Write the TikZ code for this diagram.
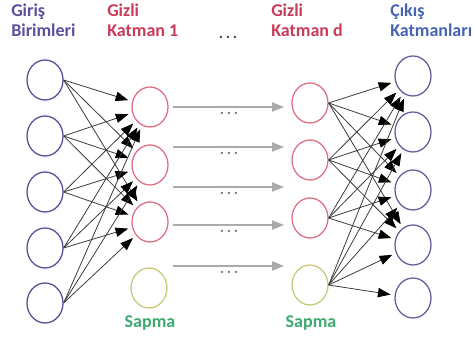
\documentclass[tikz,border=0pt]{standalone}
\usepackage{fontspec}
\setmainfont{Carlito}[BoldFont=Carlito Bold]
\usetikzlibrary{shapes.geometric,arrows.meta}
\definecolor{inblue}{RGB}{80,80,150}
\definecolor{hidred}{RGB}{222,110,130}
\definecolor{biasyel}{RGB}{200,200,120}
\definecolor{outblue}{RGB}{95,95,155}
\definecolor{txtin}{RGB}{90,80,160}
\definecolor{txthid}{RGB}{200,60,90}
\definecolor{txtout}{RGB}{70,100,180}
\definecolor{txtbias}{RGB}{60,170,110}
\definecolor{edgegray}{RGB}{60,60,60}
\definecolor{lightgray}{RGB}{170,170,170}
\tikzset{
  neuron/.style={ellipse,draw,line width=0.95pt,minimum width=27pt,minimum height=30pt,inner sep=0pt,fill=white},
  innode/.style={neuron,draw=inblue},
  hidnode/.style={neuron,draw=hidred},
  biasnode/.style={neuron,draw=biasyel},
  outnode/.style={neuron,draw=outblue},
  lbl/.style={font=\fontsize{13.5}{15}\selectfont\bfseries,align=left,anchor=north west,inner sep=0pt},
  conn/.style={draw=edgegray,line width=0.6pt,-{Triangle[length=9.5pt,width=7pt,color=black]},shorten >=3pt},
  skip/.style={draw=lightgray,line width=0.85pt,-{Triangle[length=9pt,width=7pt]}},
  dots/.style={font=\fontsize{12}{15}\selectfont\bfseries,text=gray,inner sep=0pt}
}
\begin{document}
\begin{tikzpicture}[x=0.75pt,y=-0.75pt]
\useasboundingbox (0,0) rectangle (474,341);
% labels
\node[lbl,text=txtin] (lin) at (11,4) {Giriş\\Birimleri};
\node[lbl,text=txthid] (lh1) at (107,4) {Gizli\\Katman 1};
\node[dots,text=black!70] (ltop) at (228,37) {.\,.\,.};
\node[lbl,text=txthid] (lhd) at (271,4) {Gizli\\Katman d};
\node[lbl,text=txtout] (lout) at (390,4) {Çıkış\\Katmanları};
% input layer
\node[innode] (i1) at (45,80) {};
\node[innode] (i2) at (45,136) {};
\node[innode] (i3) at (45,192) {};
\node[innode] (i4) at (45,248) {};
\node[innode] (i5) at (45,303) {};
% hidden 1
\node[hidnode] (a1) at (150,107) {};
\node[hidnode] (a2) at (150,165) {};
\node[hidnode] (a3) at (150,222) {};
\node[biasnode] (ab) at (149,288) {};
% hidden d
\node[hidnode] (d1) at (310,103) {};
\node[hidnode] (d2) at (310,160) {};
\node[hidnode] (d3) at (310,218) {};
\node[biasnode] (db) at (310,285) {};
% output
\node[outnode] (o1) at (413,76) {};
\node[outnode] (o2) at (413,132) {};
\node[outnode] (o3) at (413,190) {};
\node[outnode] (o4) at (413,245) {};
\node[outnode] (o5) at (413,298) {};
% bias labels
\node[lbl,anchor=center,text=txtbias] (sb1) at (150,323) {Sapma};
\node[lbl,anchor=center,text=txtbias] (sb2) at (311,323) {Sapma};
% input -> hidden 1
\foreach \s in {i1,i2,i3,i4,i5}
  \foreach \t in {a1,a2,a3}
    \draw[conn] (\s.east) -- (\t);
% hidden d -> output
\foreach \s in {d1,d2,d3,db}
  \foreach \t in {o1,o2,o3,o4}
    \draw[conn] (\s.east) -- (\t);
\draw[conn] (db.east) -- (o5);
% skip arrows
\foreach \y/\n in {107/1,147/2,187/3,225/4,266/5}{
  \coordinate (sa\n) at (173,\y);
  \coordinate (sz\n) at (284,\y);
  \draw[skip] (sa\n) -- (sz\n);
  \node[dots] (dt\n) at (229,\y+6) {.\,.\,.};
}
\end{tikzpicture}
\end{document}
